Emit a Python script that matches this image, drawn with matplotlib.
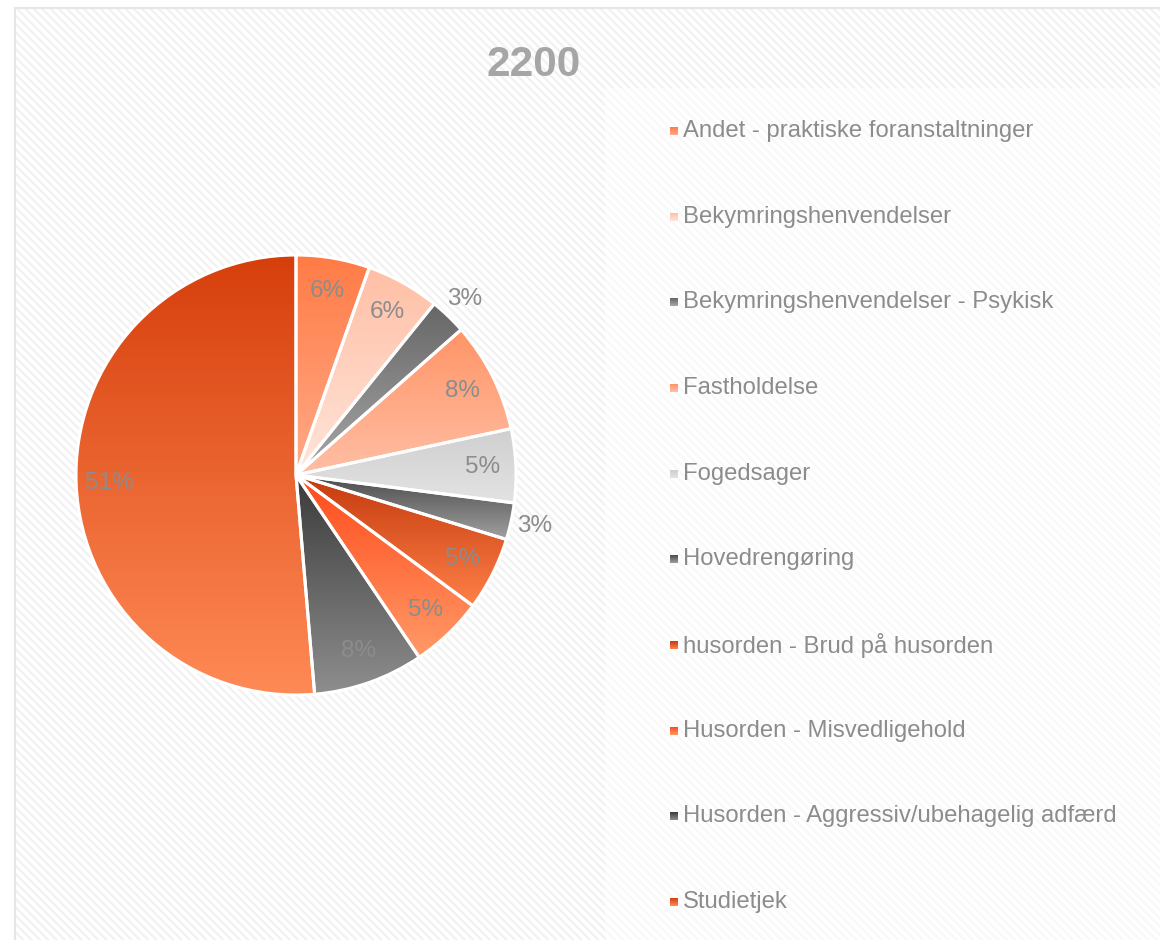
#!/usr/bin/env python3
# -*- coding: utf-8 -*-

"""
Pie chart '2200' - fordeling af sagstyper (Excel-stil med gradienter)
"""

import numpy as np
import matplotlib
matplotlib.use("Agg")
import matplotlib.pyplot as plt
from matplotlib.colors import to_rgba
from matplotlib.patches import Rectangle

# === Data ===
TITLE = "2200"
CATEGORIES = [
    "Andet - praktiske foranstaltninger",
    "Bekymringshenvendelser",
    "Bekymringshenvendelser - Psykisk",
    "Fastholdelse",
    "Fogedsager",
    "Hovedrengøring",
    "husorden - Brud på husorden",
    "Husorden - Misvedligehold",
    "Husorden - Aggressiv/ubehagelig adfærd",
    "Studietjek",
]
COUNTS = [2, 2, 1, 3, 2, 1, 2, 2, 3, 19]
PCT_LABELS = ["6%", "6%", "3%", "8%", "5%", "3%", "5%", "5%", "8%", "51%"]
OUTSIDE = [False, False, True, False, False, True, False, False, False, False]

# gradient: top -> bottom
COLOR_TOP = ["#FF7B45", "#FFBFA5", "#666666", "#FF9466", "#CFCFCF",
             "#4A4A4A", "#C43A0E", "#FF4A1A", "#3A3A3A", "#D63F0C"]
COLOR_BOT = ["#FFAA88", "#FFE5DA", "#A8A8A8", "#FFBFA5", "#E3E3E3",
             "#A0A0A0", "#FF8048", "#FF9A68", "#8E8E8E", "#FF8A55"]

TEXT_GRAY = "#8C8C8C"

plt.rcParams["font.family"] = ["Liberation Sans", "DejaVu Sans"]
plt.rcParams["hatch.linewidth"] = 1.6

W, H = 1160, 940


def gradient(ax, top, bot, extent, clip, zorder):
    c1 = np.array(to_rgba(top))
    c2 = np.array(to_rgba(bot))
    t = np.linspace(0, 1, 256)[:, None]
    arr = (c1[None, :] * (1 - t) + c2[None, :] * t)[:, None, :]
    im = ax.imshow(arr, extent=extent, origin="upper", aspect="auto",
                   interpolation="bilinear", zorder=zorder)
    im.set_clip_path(clip)
    return im


def main():
    fig = plt.figure(figsize=(W / 100, H / 100), dpi=100)
    ax = fig.add_axes([0, 0, 1, 1])
    ax.set_xlim(0, W)
    ax.set_ylim(0, H)
    ax.axis("off")

    # === 背景 (chart area) ===
    ax.add_patch(Rectangle((15, -20), W, H - 8 + 20, facecolor="white",
                           edgecolor="#F1F1F1", lw=0, hatch="\\\\\\\\", zorder=0))
    ax.add_patch(Rectangle((605, -20), W, H - 88 + 20, facecolor="white",
                           edgecolor="none", alpha=0.55, zorder=0.5))
    ax.add_patch(Rectangle((15, -20), W, H - 8 + 20, facecolor="none",
                           edgecolor="#E6E6E6", lw=1.5, zorder=0.6))

    # === Pie ===
    cx, cy, r = 296, H - 475, 220
    wedges, _ = ax.pie(COUNTS, center=(cx, cy), radius=r, startangle=90,
                       counterclock=False, frame=True,
                       wedgeprops=dict(edgecolor="white", linewidth=2.2,
                                       facecolor="none", zorder=3))
    ax.set_xlim(0, W)
    ax.set_ylim(0, H)
    ax.set_aspect("equal")
    ax.axis("off")

    for w, ct, cb in zip(wedges, COLOR_TOP, COLOR_BOT):
        ext = w.get_path().get_extents()
        gradient(ax, ct, cb, (ext.x0, ext.x1, ext.y0, ext.y1), w, 2)

    # === ラベル ===
    for w, lab, out in zip(wedges, PCT_LABELS, OUTSIDE):
        ang = np.deg2rad((w.theta1 + w.theta2) / 2)
        rr = r * (1.11 if out else 0.85)
        ax.text(cx + rr * np.cos(ang), cy + rr * np.sin(ang), lab,
                ha="center", va="center", fontsize=17.5, color=TEXT_GRAY,
                zorder=4)

    # === タイトル ===
    ax.text(534, H - 65, TITLE, ha="center", va="center", fontsize=30.5,
            fontweight="bold", color="#A6A6A6", zorder=4)

    # === 凡例 ===
    y0, step = 131, 85.67
    for i, (name, ct, cb) in enumerate(zip(CATEGORIES, COLOR_TOP, COLOR_BOT)):
        y = H - (y0 + i * step)
        sq = Rectangle((670, y - 4), 8, 8, facecolor="none", edgecolor="none",
                       zorder=4)
        ax.add_patch(sq)
        gradient(ax, ct, cb, (670, 678, y - 4, y + 4), sq, 4)
        ax.text(683, y, name, ha="left", va="center", fontsize=17.2,
                color=TEXT_GRAY, zorder=4)

    fig.savefig("out.png", dpi=100)


if __name__ == "__main__":
    main()
